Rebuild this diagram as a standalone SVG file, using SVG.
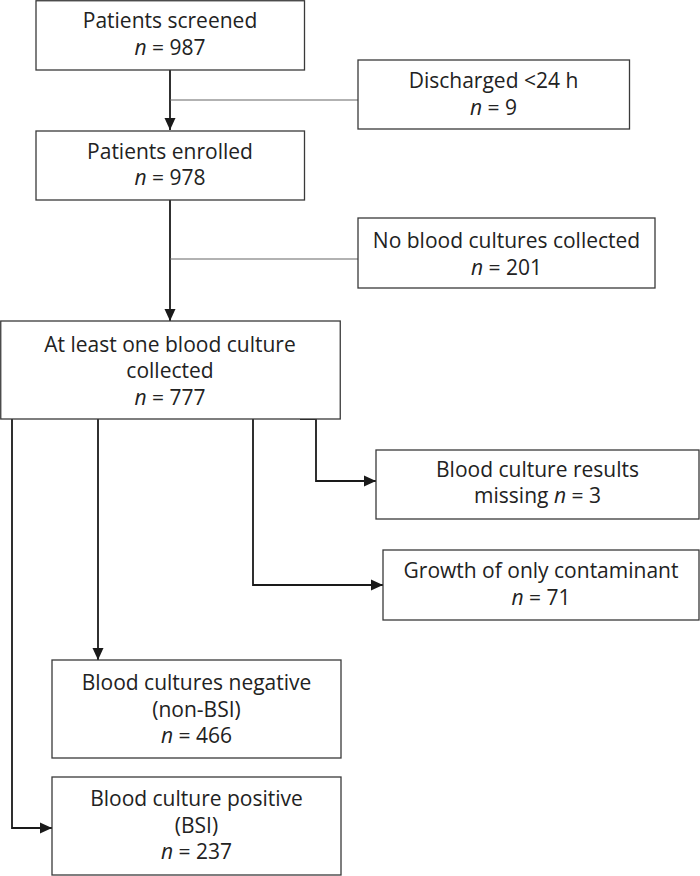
<svg xmlns="http://www.w3.org/2000/svg" width="700" height="876" viewBox="0 0 700 876">
<defs>
<style>
.box{fill:#fff;stroke:#3a3a3a;stroke-width:1.3}
.t{font-family:"Open Sans","Noto Sans",sans-serif;font-size:21px;fill:#222;text-anchor:middle}
.i{font-style:italic}
.c{fill:none;stroke:#1a1a1a;stroke-width:1.8}
.g{fill:none;stroke:#666;stroke-width:1.1}
</style>
<marker id="ah" markerUnits="userSpaceOnUse" markerWidth="14" markerHeight="14" viewBox="0 0 14 14" refX="12" refY="7" orient="auto">
<path d="M0,1.5 L12,7 L0,12.5 Z" fill="#1a1a1a"/>
</marker>
</defs>
<rect width="700" height="876" fill="#fff"/>
<g id="connectors">
<path class="c" d="M170,70 V130" marker-end="url(#ah)"/>
<path class="g" d="M170,100 H358"/>
<path class="c" d="M170,200 V321" marker-end="url(#ah)"/>
<path class="g" d="M170,259 H358"/>
<path class="c" d="M300,419 H316 V481 H376" marker-end="url(#ah)"/>
<path class="c" d="M253,419 V585 H383" marker-end="url(#ah)"/>
<path class="c" d="M98,419 V660" marker-end="url(#ah)"/>
<path class="c" d="M12,419 V828 H52" marker-end="url(#ah)"/>
</g>
<g id="screened">
<rect class="box" x="36" y="0.75" width="268.5" height="69.25"/>
<text class="t" x="170" y="28">Patients screened</text>
<text class="t" x="170" y="55"><tspan class="i">n</tspan> = 987</text>
</g>
<g id="discharged">
<rect class="box" x="358" y="60" width="271.5" height="69"/>
<text class="t" x="493.5" y="88">Discharged &lt;24 h</text>
<text class="t" x="493.5" y="115"><tspan class="i">n</tspan> = 9</text>
</g>
<g id="enrolled">
<rect class="box" x="36" y="131" width="268.5" height="69"/>
<text class="t" x="170" y="159">Patients enrolled</text>
<text class="t" x="170" y="185"><tspan class="i">n</tspan> = 978</text>
</g>
<g id="noculture">
<rect class="box" x="358" y="218" width="297" height="70"/>
<text class="t" x="506.5" y="248">No blood cultures collected</text>
<text class="t" x="506.5" y="275"><tspan class="i">n</tspan> = 201</text>
</g>
<g id="atleastone">
<rect class="box" x="0.75" y="321" width="339.5" height="98"/>
<text class="t" x="170" y="352">At least one blood culture</text>
<text class="t" x="170" y="378">collected</text>
<text class="t" x="170" y="405"><tspan class="i">n</tspan> = 777</text>
</g>
<g id="missing">
<rect class="box" x="376" y="450" width="323" height="69"/>
<text class="t" x="537.5" y="477">Blood culture results</text>
<text class="t" x="537.5" y="503">missing <tspan class="i">n</tspan> = 3</text>
</g>
<g id="contaminant">
<rect class="box" x="383" y="550" width="316" height="70"/>
<text class="t" x="541" y="578">Growth of only contaminant</text>
<text class="t" x="541" y="605"><tspan class="i">n</tspan> = 71</text>
</g>
<g id="negative">
<rect class="box" x="52" y="660" width="289" height="98"/>
<text class="t" x="196.5" y="690">Blood cultures negative</text>
<text class="t" x="196.5" y="717">(non-BSI)</text>
<text class="t" x="196.5" y="743"><tspan class="i">n</tspan> = 466</text>
</g>
<g id="positive">
<rect class="box" x="52" y="777" width="289" height="98"/>
<text class="t" x="196.5" y="806">Blood culture positive</text>
<text class="t" x="196.5" y="833">(BSI)</text>
<text class="t" x="196.5" y="859"><tspan class="i">n</tspan> = 237</text>
</g>
</svg>
